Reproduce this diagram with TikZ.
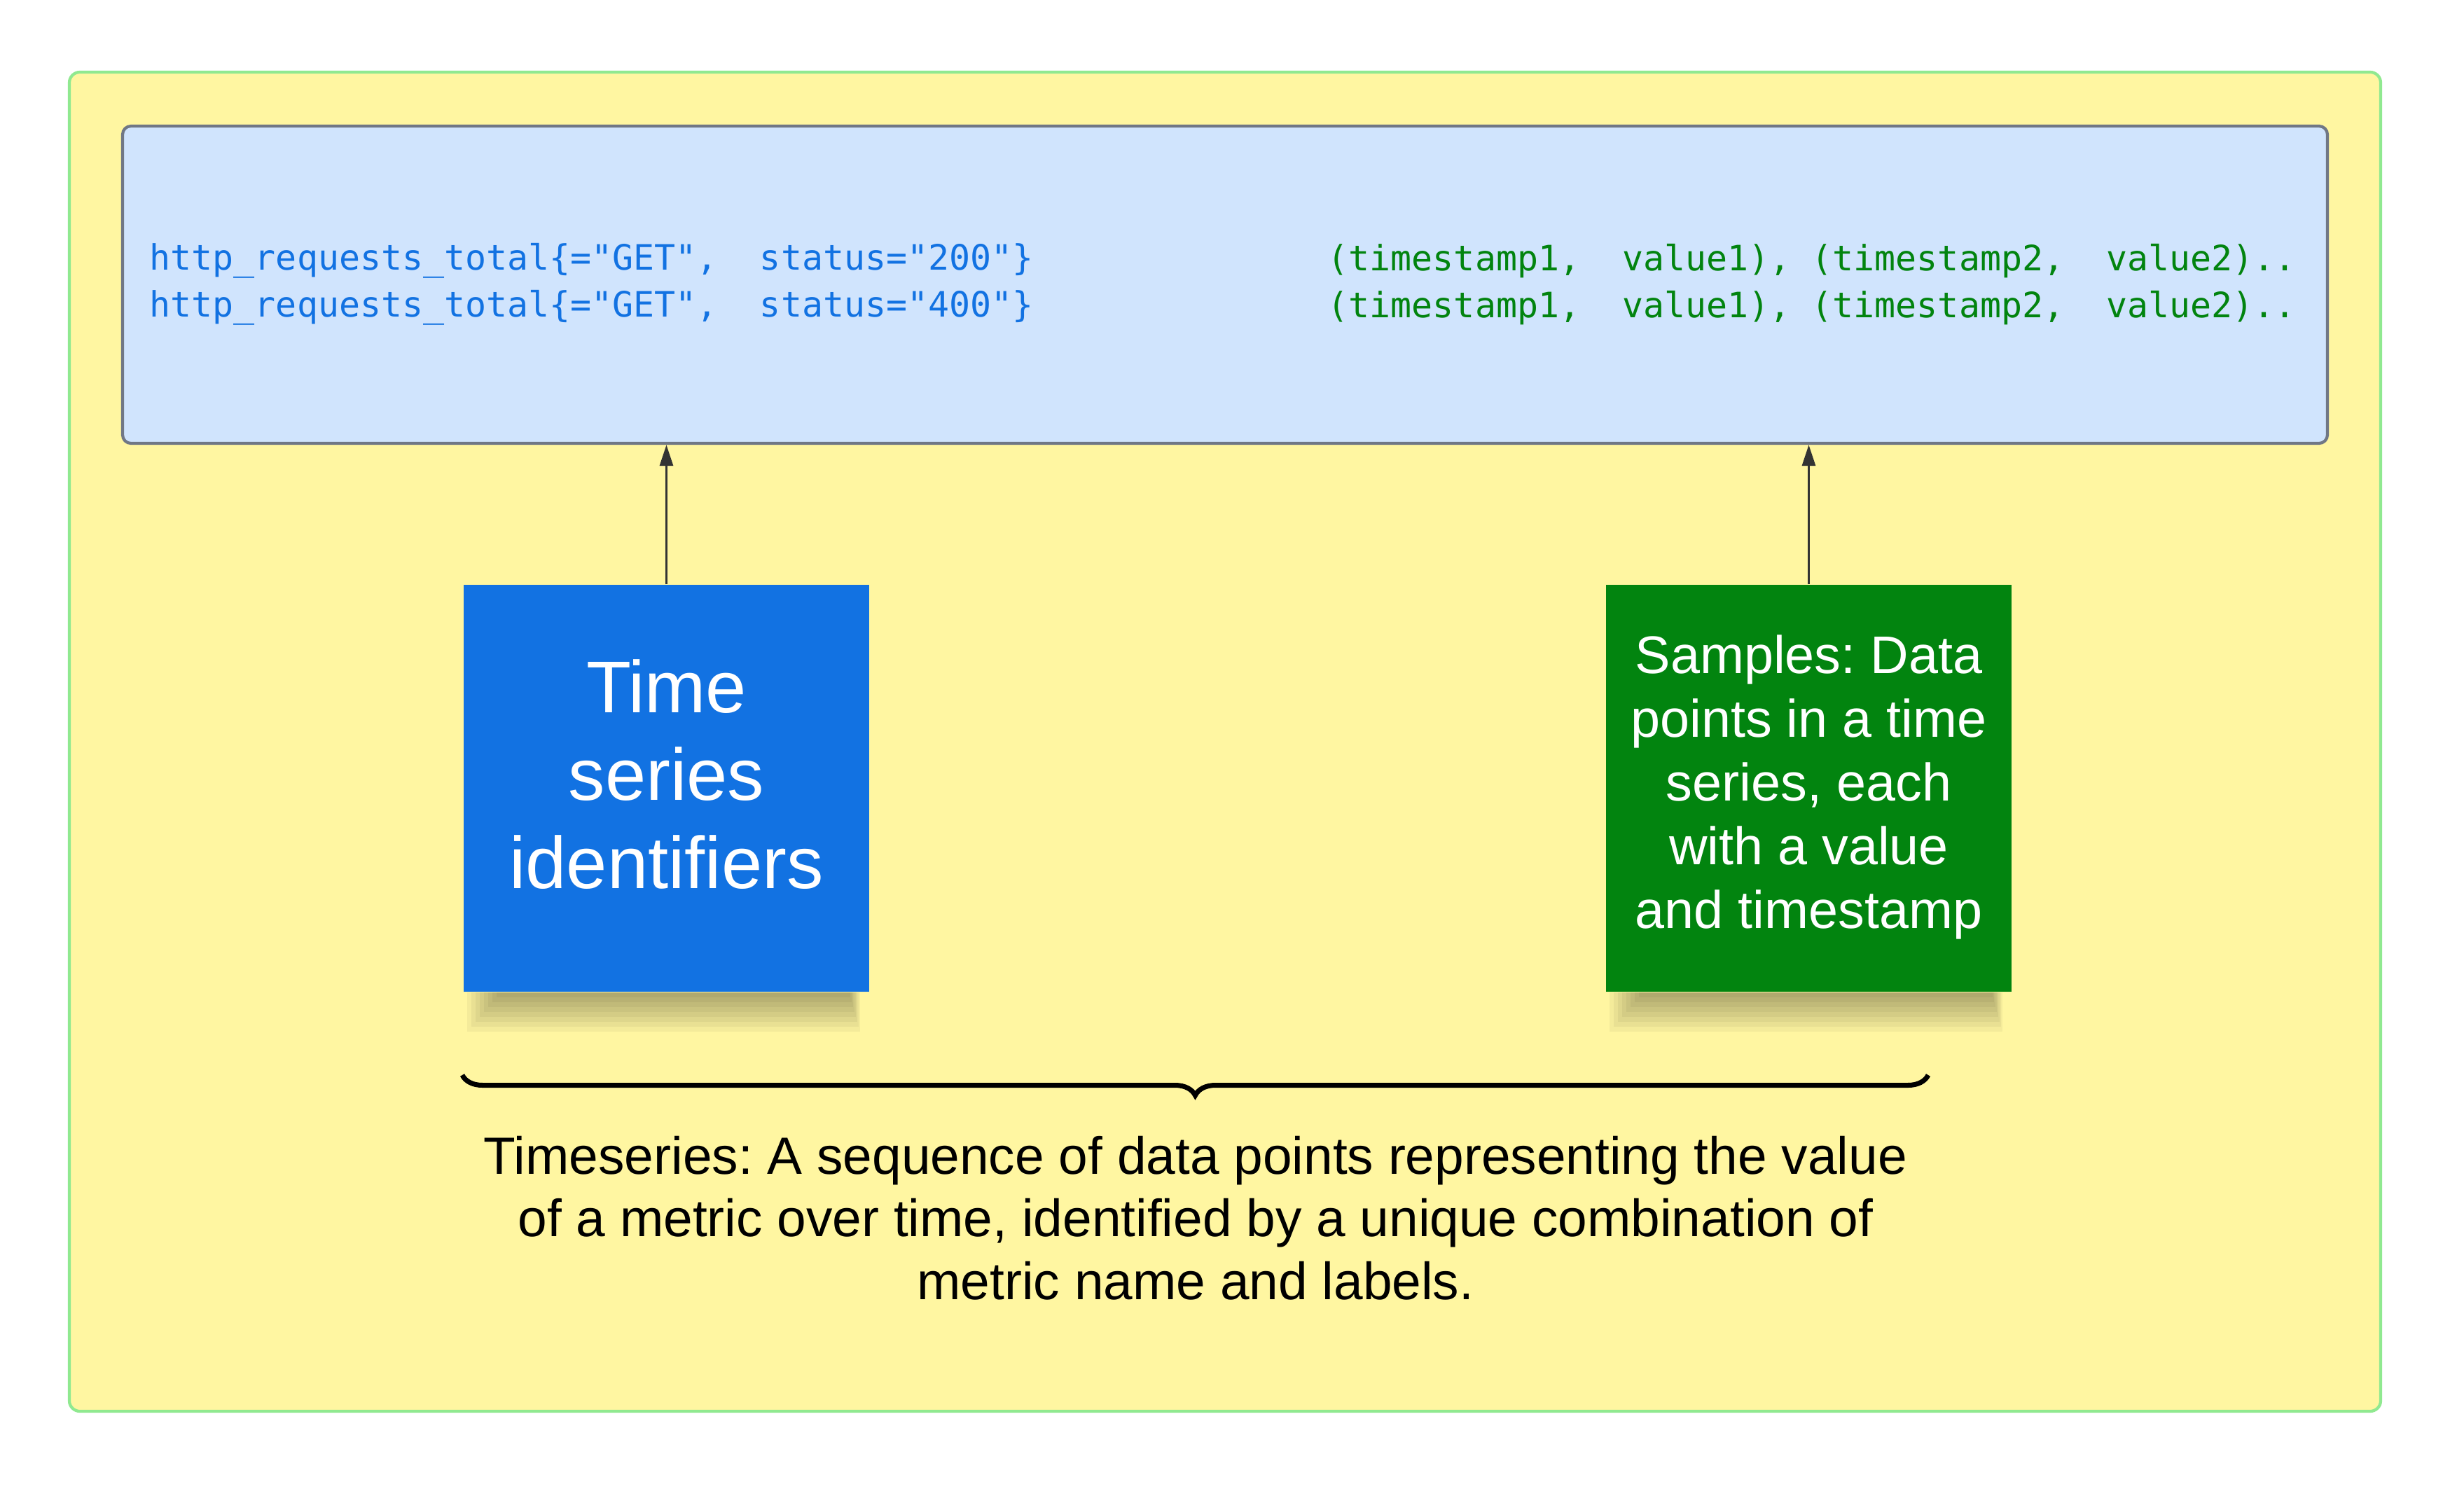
\documentclass[tikz,border=0pt]{standalone}
\usepackage{fontspec}
\setmainfont{Liberation Sans}
\setmonofont{DejaVu Sans Mono}
\usepackage{tikz}
\usetikzlibrary{decorations.pathreplacing,arrows.meta,positioning}
\definecolor{panelfill}{RGB}{255,246,161}
\definecolor{panelline}{RGB}{144,233,144}
\definecolor{codefill}{RGB}{208,228,253}
\definecolor{codeline}{RGB}{112,119,133}
\definecolor{idblue}{RGB}{18,114,226}
\definecolor{samplegreen}{RGB}{2,132,15}
\definecolor{linkgray}{RGB}{51,51,51}
\frenchspacing

\begin{document}
\begin{tikzpicture}[
    notebox/.style={rectangle, minimum width=5.79cm, minimum height=5.81cm, inner sep=0pt,
        align=center, text=white},
    notetext/.style={align=center, text=white, inner sep=0pt},
    codetext/.style={anchor=west, inner sep=0pt, align=left,
        font=\ttfamily\fontsize{14.2}{19}\selectfont},
    link/.style={draw=linkgray, line width=0.85pt, -{Triangle[length=0.3cm,width=0.19cm]}}
]
    \useasboundingbox[fill=white] (0,0) rectangle (35.18,-21.56);

    %% Outer panel and code box
    \draw[fill=panelfill, draw=panelline, line width=1.2pt, rounded corners=0.15cm]
        (0.99,-1.03) rectangle (33.99,-20.15);
    \node[fill=codefill, draw=codeline, line width=1.2pt, rounded corners=0.12cm,
        minimum width=31.48cm, minimum height=4.53cm, inner sep=0pt] (codebox) at (17.49,-4.065) {};

    %% Identifier and sample columns
    \node[codetext, text=idblue] (idcol) at (2.13,-4.06)
        {http\_requests\_total\{="GET",~~status="200"\}\\
         http\_requests\_total\{="GET",~~status="400"\}};
    \node[codetext, text=samplegreen] (samplecol) at (18.95,-4.06)
        {(timestamp1,~~value1),~(timestamp2,~~value2)..\\
         (timestamp1,~~value1),~(timestamp2,~~value2)..};

    %% Sticky notes
    \node[notebox, fill=idblue,
        label={[notetext, yshift=0.20cm, font=\fontsize{29.8}{35.8}\selectfont]center:Time\\series\\identifiers}]
        (tsid) at (9.515,-11.255) {};
    \node[notebox, fill=samplegreen,
        label={[notetext, yshift=0.02cm, font=\fontsize{21.5}{25.9}\selectfont]center:Samples: Data\\points in a time\\series, each\\with a value\\and timestamp}]
        (samples) at (25.825,-11.255) {};

    %% soft shadow under the notes
    \foreach \n in {tsid,samples}
      \foreach \k in {1,...,8}
        \fill[black, opacity=0.045]
            ([xshift=0.06cm*\k]\n.south west) rectangle ([xshift=-0.12cm-0.02cm*\k, yshift=-0.07cm*(9-\k)]\n.south east);

    \draw[link] (tsid.north) -- (tsid.north |- codebox.south);
    \draw[link] (samples.north) -- (samples.north |- codebox.south);

    %% Brace and summary
    \coordinate (braceL) at (6.60,-15.35);
    \coordinate (braceR) at (27.53,-15.35);
    \draw[decorate, decoration={brace, mirror, amplitude=0.29cm}, line width=2pt] (braceL) -- (braceR);

    \node[align=center, inner sep=0pt, font=\fontsize{21.3}{25.5}\selectfont] (summary) at (17.07,-17.39)
        {Timeseries: A sequence of data points representing the value\\
         of a metric over time, identified by a unique combination of\\
         metric name and labels.};
\end{tikzpicture}
\end{document}
